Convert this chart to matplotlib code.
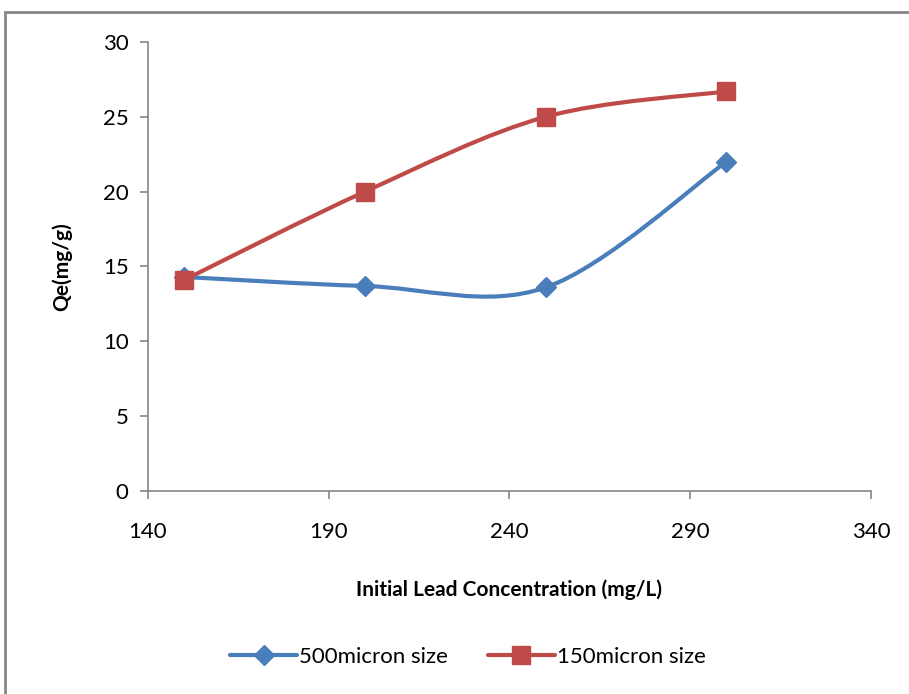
import matplotlib.pyplot as plt
import matplotlib.patches as mpatches
from matplotlib.path import Path
from matplotlib.lines import Line2D

plt.rcParams['font.family'] = ['Lato', 'DejaVu Sans']

# initial lead concentration (mg/L)
conc = [150, 200, 250, 300]
# uptake Qe (mg/g) for the two particle sizes
qe_500 = [14.3, 13.7, 13.6, 22.0]
qe_150 = [14.1, 20.0, 25.0, 26.7]

blue = '#4A7EBB'
red = '#BE4B48'


def smooth_path(xs, ys):
    # cubic bezier through the points, excel-style smoothing
    pts = list(zip(xs, ys))
    n = len(pts)
    verts = [pts[0]]
    codes = [Path.MOVETO]
    for i in range(n - 1):
        p0 = pts[max(i - 1, 0)]
        p1 = pts[i]
        p2 = pts[i + 1]
        p3 = pts[min(i + 2, n - 1)]
        c1 = (p1[0] + (p2[0] - p0[0]) / 6, p1[1] + (p2[1] - p0[1]) / 6)
        c2 = (p2[0] - (p3[0] - p1[0]) / 6, p2[1] - (p3[1] - p1[1]) / 6)
        verts += [c1, c2, p2]
        codes += [Path.CURVE4] * 3
    return Path(verts, codes)


fig = plt.figure(figsize=(9.09, 6.94), dpi=100)
ax = fig.add_axes([0.1628, 0.2925, 0.7954, 0.647])

for ys, col, mk, ms in [(qe_500, blue, 'D', 10), (qe_150, red, 's', 13)]:
    ax.add_patch(mpatches.PathPatch(smooth_path(conc, ys), fill=False,
                                    edgecolor=col, lw=3.0, capstyle='round'))
    ax.plot(conc, ys, ls='none', marker=mk, ms=ms, color=col)

ax.set_xlim(140, 340)
ax.set_ylim(0, 30)
ax.set_xticks([140, 190, 240, 290, 340])
ax.set_yticks(range(0, 31, 5))
for s in ['top', 'right']:
    ax.spines[s].set_visible(False)
for s in ['left', 'bottom']:
    ax.spines[s].set_color('#868686')
    ax.spines[s].set_linewidth(1.2)
ax.tick_params(direction='out', length=6, width=1.2, color='#868686',
               labelsize=16, pad=8)
ax.tick_params(axis='x', pad=16)

ax.set_xlabel('Initial Lead Concentration (mg/L)', fontsize=15,
              fontweight='bold', labelpad=27)
ax.set_ylabel('Qe(mg/g)', fontsize=15, fontweight='bold', labelpad=22)

handles = [
    Line2D([], [], color=blue, lw=3.0, marker='D', ms=10, solid_capstyle='round'),
    Line2D([], [], color=red, lw=3.0, marker='s', ms=13, solid_capstyle='round'),
]
fig.legend(handles, ['500micron size', '150micron size'], loc='center',
           bbox_to_anchor=(0.515, 0.053), ncol=2, frameon=False, fontsize=16,
           handlelength=3.0, handletextpad=0.1, columnspacing=1.8)

# outer chart border
fig.add_artist(mpatches.Rectangle((5 / 909, -0.1), 1.1, 1 - 12 / 694 + 0.1,
                                  transform=fig.transFigure, fill=False,
                                  edgecolor='#868686', lw=2))

fig.savefig('out.png', dpi=100)
